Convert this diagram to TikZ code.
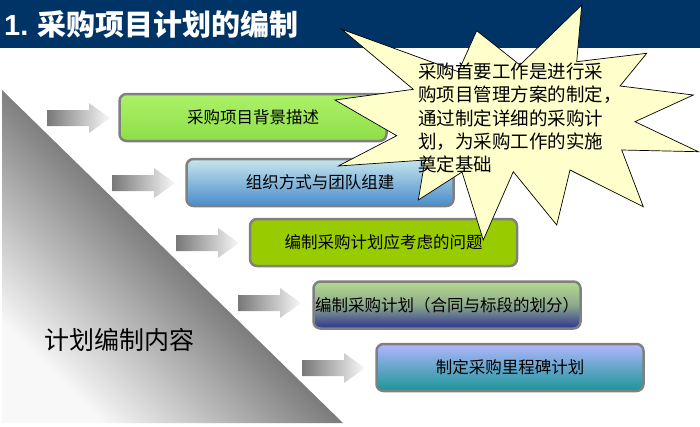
\documentclass[tikz,border=0pt]{standalone}
\usepackage{fontspec}
\setmainfont{Noto Sans CJK SC}
\newfontfamily\latinsans{Liberation Sans}
\usetikzlibrary{positioning}

\definecolor{titlebar}{RGB}{0,51,102}
\definecolor{burstfill}{RGB}{255,255,204}
\definecolor{boxline}{RGB}{128,128,128}
\definecolor{tridark}{RGB}{125,125,125}
\definecolor{trilight}{RGB}{248,248,248}
\definecolor{arrowdark}{RGB}{120,120,120}
\definecolor{arrowlight}{RGB}{248,248,248}

\begin{document}
\begin{tikzpicture}[
    % GLOBAL SETTINGS
    x=1pt, y=-1pt,
    % STYLES
    titletext/.style={anchor=west, text=white, inner sep=0pt, font=\fontsize{29}{29}\selectfont\bfseries},
    stepbox/.style={rectangle, rounded corners=7pt, draw=boxline, line width=2.5pt, minimum width=267pt, minimum height=47pt, inner sep=0pt},
    box_label/.style={font=\fontsize{16.5}{16.5}\selectfont, text=black, inner sep=0pt},
    burst/.style={draw=black, fill=burstfill, line width=0.7pt, line join=miter},
    memo_line/.style={anchor=base west, font=\fontsize{18.5}{18.5}\selectfont, inner sep=0pt},
    block_arrow/.style={left color=arrowdark, right color=arrowlight, draw=none},
    shade_bg/.style={top color={rgb,255:red,172;green,242;blue,104}, bottom color={rgb,255:red,142;green,222;blue,72}},
    shade_org/.style={top color={rgb,255:red,200;green,230;blue,236}, bottom color={rgb,255:red,72;green,140;blue,204}},
    shade_issue/.style={fill={rgb,255:red,153;green,204;blue,0}},
    shade_plan/.style={top color={rgb,255:red,182;green,218;blue,142}, bottom color={rgb,255:red,46;green,49;blue,146}, middle color={rgb,255:red,140;green,170;blue,140}},
    shade_mile/.style={top color={rgb,255:red,178;green,182;blue,255}, bottom color={rgb,255:red,24;green,150;blue,150}}
]

    \useasboundingbox (0,0) rectangle (700,426);
    \fill[white] (0,0) rectangle (700,426);

    % title bar
    \fill[titlebar] (0,0) rectangle (700,48);
    \node[titletext] (title) at (4,24) {{\latinsans 1.} 采购项目计划的编制};

    % big wedge on the left
    \shade[top color=tridark, bottom color=trilight, middle color=tridark, shading angle=-45]
        (2,90) -- (343,423) -- (2,423) -- cycle;
    \node[font=\fontsize{25}{25}\selectfont, inner sep=0pt] (wedge) at (119,340) {计划编制内容};

    % block arrows
    \foreach \x/\y in {47/118, 112/183, 176/243, 238/303, 302/368} {
        \path[block_arrow] (\x,\y-8) -- (\x+42,\y-8) -- (\x+42,\y-15) -- (\x+63,\y)
            -- (\x+42,\y+15) -- (\x+42,\y+8) -- (\x,\y+8) -- cycle;
    }

    % Draw the step boxes
    \foreach \i/\cx/\cy/\look in {1/253/117.5/shade_bg, 2/320/182.5/shade_org, 3/383.5/242.5/shade_issue, 4/447/305/shade_plan, 5/510/367.5/shade_mile} {
        \node[stepbox, \look] (b\i) at (\cx,\cy) {};
    }

    % callout burst
    \draw[burst] (341.7,29.3) -- (458.3,71.7) -- (476.7,30.7) -- (520,65) -- (581.7,5)
        -- (576.7,61.7) -- (646.7,53.3) -- (620,86) -- (693.3,95) -- (635,121.7)
        -- (698.3,151.7) -- (621.7,150) -- (643.3,206.7) -- (570,170) -- (556.7,225)
        -- (513.3,171.7) -- (483.3,240) -- (462,172) -- (418.3,200) -- (425,160)
        -- (338.3,166) -- (396.7,135.7) -- (335,100) -- (413.3,89.3) -- cycle;

    \foreach \j/\yb/\txt in {1/78.5/采购首要工作是进行采, 2/101.8/购项目管理方案的制定，, 3/125.1/通过制定详细的采购计, 4/148.4/划，为采购工作的实施, 5/171.7/奠定基础} {
        \node[memo_line] (m\j) at (418,\yb) {\txt};
    }

    % labels on top of the boxes
    \foreach \i/\txt in {1/采购项目背景描述, 2/组织方式与团队组建, 3/编制采购计划应考虑的问题, 4/编制采购计划（合同与标段的划分）, 5/制定采购里程碑计划} {
        \node[box_label] (t\i) at (b\i) {\txt};
    }

\end{tikzpicture}
\end{document}
